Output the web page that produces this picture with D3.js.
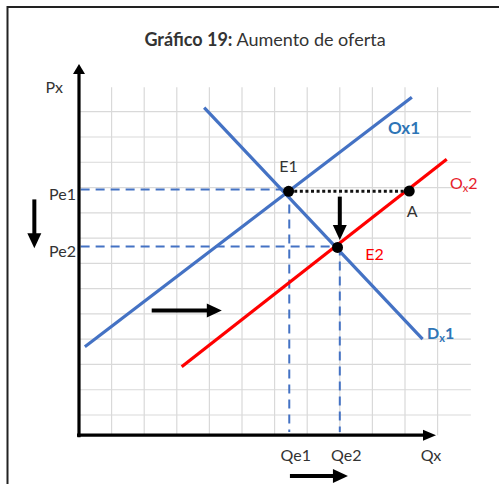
<!DOCTYPE html>
<html><head><meta charset="utf-8">
<script src="https://cdn.jsdelivr.net/npm/d3@7"></script>
<style>html,body{margin:0;padding:0;background:#fff;} svg{display:block;}</style>
</head><body>
<script>
// ---- data (grid units: x = quantity, y = price) ----
const supply1 = [[0.18, 2.70], [10.21, 12.57]];   // Ox1
const demand1 = [[3.84, 12.16], [10.54, 3.00]];   // Dx1
const supply2 = [[3.15, 1.91], [11.28, 10.12]];   // Ox2
const pointNames = ["E1", "A", "E2"];
const pointX = [6.43, 10.13, 7.93];
const pointY = [8.85, 8.86, 6.63];
const priceLevels = [8.92, 6.67];
const priceLabels = ["Pe1", "Pe2"];
const qtyLevels = [6.45, 8.0];
const qtyLabels = ["Qe1", "Qe2"];
const gridXValues = d3.range(1, 12);
const gridYValues = d3.range(0, 13);
const arrowFrom = [[-1.37, 8.53], [8.0, 8.64], [2.23, 4.13], [6.47, -2.41]];
const arrowTo   = [[-1.37, 6.60], [8.0, 6.92], [4.38, 4.13], [8.25, -2.41]];
const axisXValue = -0.8;   // price level of the quantity axis
const dashBottom = -0.67;

// ---- layout ----
const W = 499, H = 484;
const x = d3.scaleLinear().domain([0, 11]).range([79, 79 + 11 * 32.6]);
const y = d3.scaleLinear().domain([0, 12]).range([415, 415 - 12 * 25.275]);
const font = "Lato, 'Liberation Sans', sans-serif";
const blue = "#4472C4", red = "#FF0000", txt = "#333";

const svg = d3.select("body").append("svg").attr("width", W).attr("height", H);

// frame
svg.append("path").attr("d", `M7.5,${H} L7.5,7 L${W},7`).attr("fill", "none")
  .attr("stroke", "#222").attr("stroke-width", 2);

// title
const title = svg.append("text").attr("x", 265).attr("y", 46).attr("text-anchor", "middle")
  .attr("font-family", font).attr("font-size", 18).attr("fill", txt);
title.append("tspan").attr("font-weight", "bold").text("Gráfico 19:");
title.append("tspan").text(" Aumento de oferta");

// grid
const grid = svg.append("g").attr("stroke", "#d9d9d9").attr("stroke-width", 1.2);
grid.selectAll("line.v").data(gridXValues).join("line").attr("class", "v")
  .attr("x1", d => x(d)).attr("x2", d => x(d)).attr("y1", y(12.97)).attr("y2", y(axisXValue));
grid.selectAll("line.h").data(gridYValues).join("line").attr("class", "h")
  .attr("x1", x(0)).attr("x2", x(12.02)).attr("y1", d => y(d)).attr("y2", d => y(d));

// dashed reference lines
const dash = svg.append("g").attr("stroke", blue).attr("stroke-width", 2).attr("stroke-dasharray", "9,6").attr("fill", "none");
priceLevels.forEach((p, i) => {
  dash.append("line").attr("x1", x(0.05)).attr("x2", x(qtyLevels[i])).attr("y1", y(p)).attr("y2", y(p));
});
qtyLevels.forEach((q, i) => {
  dash.append("line").attr("x1", x(q)).attr("x2", x(q)).attr("y1", y(priceLevels[i])).attr("y2", y(dashBottom));
});

// curves
const line = d3.line().x(d => x(d[0])).y(d => y(d[1]));
svg.append("path").attr("d", line(supply1)).attr("stroke", blue).attr("stroke-width", 3.2).attr("fill", "none");
svg.append("path").attr("d", line(demand1)).attr("stroke", blue).attr("stroke-width", 3.2).attr("fill", "none");
svg.append("path").attr("d", line(supply2)).attr("stroke", red).attr("stroke-width", 3.2).attr("fill", "none");

// dotted E1 -> A
svg.append("line").attr("x1", x(pointX[0])).attr("x2", x(pointX[1]))
  .attr("y1", y(pointY[0])).attr("y2", y(pointY[0]))
  .attr("stroke", "#111").attr("stroke-width", 3).attr("stroke-dasharray", "3,2.6");

// axes lines with arrowheads
const ax = svg.append("g");
ax.append("line").attr("x1", x(0)).attr("x2", x(0)).attr("y1", y(axisXValue) + 2).attr("y2", 72)
  .attr("stroke", "#000").attr("stroke-width", 3.2);
ax.append("path").attr("d", `M${x(0)},64 L${x(0) - 6},74 L${x(0) + 6},74 Z`).attr("fill", "#000");
ax.append("line").attr("x1", x(0) - 2).attr("x2", 424).attr("y1", y(axisXValue)).attr("y2", y(axisXValue))
  .attr("stroke", "#000").attr("stroke-width", 3.2);
ax.append("path").attr("d", `M436,${y(axisXValue)} L423,${y(axisXValue) - 5.5} L423,${y(axisXValue) + 5.5} Z`).attr("fill", "#000");

// axis labels via d3 axes
const yAxis = d3.axisLeft(y).tickValues(priceLevels).tickFormat((d, i) => priceLabels[i]).tickSize(0).tickPadding(2);
const gy = svg.append("g").attr("transform", `translate(${x(0) - 1},0)`).call(yAxis);
gy.select(".domain").remove();
gy.selectAll("text").attr("font-family", font).attr("font-size", 16).attr("fill", txt).attr("dy", "0.6em");

const xAxis = d3.axisBottom(x).tickValues(qtyLevels).tickFormat((d, i) => qtyLabels[i]).tickSize(0).tickPadding(14);
const gx = svg.append("g").attr("transform", `translate(0,${y(axisXValue)})`).call(xAxis);
gx.select(".domain").remove();
gx.selectAll("text").attr("font-family", font).attr("font-size", 16).attr("fill", txt).attr("dx", 6);

svg.append("text").attr("x", 63).attr("y", 93).attr("text-anchor", "end")
  .attr("font-family", font).attr("font-size", 16).attr("fill", txt).text("Px");
svg.append("text").attr("x", 431).attr("y", 461).attr("text-anchor", "middle")
  .attr("font-family", font).attr("font-size", 16).attr("fill", txt).text("Qx");

// points
svg.selectAll("circle.pt").data(pointNames).join("circle").attr("class", "pt")
  .attr("cx", (d, i) => x(pointX[i])).attr("cy", (d, i) => y(pointY[i])).attr("r", 5.5).attr("fill", "#000");

// point labels
const lbl = (t, px, py, color, anchor) => svg.append("text").attr("x", px).attr("y", py)
  .attr("text-anchor", anchor || "middle").attr("font-family", font).attr("font-size", 16).attr("fill", color).text(t);
lbl("E1", x(pointX[0]), y(pointY[0]) - 19, txt);
lbl("A", x(pointX[1]) + 3, y(pointY[1]) + 26, txt);
lbl("E2", x(pointX[2]) + 37, y(pointY[2]) + 13, red);

// curve labels
svg.append("text").attr("x", 404).attr("y", 134).attr("text-anchor", "middle")
  .attr("font-family", font).attr("font-size", 17).attr("font-weight", "bold").attr("fill", "#2E75B6").text("Ox1");
const o2 = svg.append("text").attr("x", 450).attr("y", 189).attr("font-family", font)
  .attr("font-size", 16).attr("fill", "#e8202a");
o2.append("tspan").text("O");
o2.append("tspan").attr("font-size", 11).attr("dy", 3).text("x");
o2.append("tspan").attr("dy", -3).text("2");
const d1 = svg.append("text").attr("x", 427).attr("y", 339).attr("font-family", font)
  .attr("font-size", 16).attr("font-weight", "bold").attr("fill", "#2E75B6");
d1.append("tspan").text("D");
d1.append("tspan").attr("font-size", 11).attr("dy", 3).text("x");
d1.append("tspan").attr("dy", -3).text("1");

// shift arrows
arrowFrom.forEach((f, i) => {
  const t = arrowTo[i];
  const x1 = x(f[0]), y1 = y(f[1]), x2 = x(t[0]), y2 = y(t[1]);
  const dx = x2 - x1, dy = y2 - y1, len = Math.hypot(dx, dy);
  const ux = dx / len, uy = dy / len, hl = 15, hw = 7;
  const bx = x2 - ux * hl, by = y2 - uy * hl;
  svg.append("line").attr("x1", x1).attr("y1", y1).attr("x2", bx + ux).attr("y2", by + uy)
    .attr("stroke", "#000").attr("stroke-width", 4);
  svg.append("path").attr("d", `M${x2},${y2} L${bx - uy * hw},${by + ux * hw} L${bx + uy * hw},${by - ux * hw} Z`)
    .attr("fill", "#000");
});
</script>
</body></html>
